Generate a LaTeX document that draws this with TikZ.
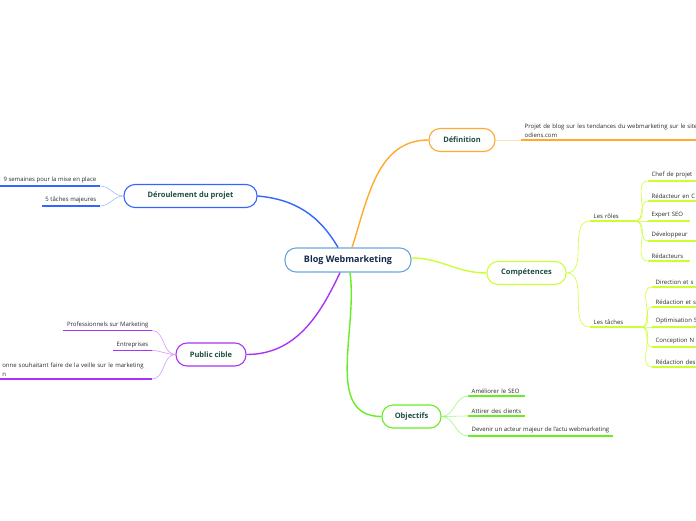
\documentclass[tikz,border=0pt]{standalone}
\usepackage{fontspec}
\setmainfont{Open Sans}
\usetikzlibrary{positioning}

\definecolor{rootblue}{HTML}{6AA6DC}
\definecolor{rootnavy}{HTML}{14294B}
\definecolor{titlegreen}{HTML}{1E4D40}
\definecolor{leafgray}{HTML}{2A2A2A}
\definecolor{defcol}{HTML}{FFA92E}
\definecolor{dercol}{HTML}{3366FF}
\definecolor{compcol}{HTML}{CCFF33}
\definecolor{objcol}{HTML}{66EE22}
\definecolor{pubcol}{HTML}{AA33F5}

\begin{document}
\begin{tikzpicture}[x=1pt, y=-1pt,
	topic/.style={draw, rounded corners=11pt, line width=1.1pt, fill=white, minimum height=23pt, inner xsep=8pt, font=\bfseries\fontsize{7.5}{9}\selectfont, text=titlegreen},
	leaf/.style={inner xsep=3.5pt, inner ysep=2.5pt, font=\fontsize{6}{9}\selectfont, text=leafgray, align=left},
	branch/.style={line width=1.4pt},
	twig/.style={line width=0.6pt},
	uline/.style={line width=1.8pt},
]
	\clip (0,0) rectangle (696,520);

	% Centre
	\node[topic, draw=rootblue, text=rootnavy, minimum width=126pt, minimum height=24pt, font=\bfseries\fontsize{9}{11}\selectfont] (root) at (348,260) {Blog Webmarketing};

	% Main topics
	\node[topic, draw=defcol, minimum width=66pt] (def) at (462,140) {Définition};
	\node[topic, draw=dercol, minimum width=133pt] (der) at (190.5,196) {Déroulement du projet};
	\node[topic, draw=compcol, minimum width=79pt] (comp) at (526.5,273) {Compétences};
	\node[topic, draw=objcol, minimum width=59pt] (obj) at (411.5,416.5) {Objectifs};
	\node[topic, draw=pubcol, minimum width=70pt] (pub) at (211,354.5) {Public cible};

	% Centre -> topics
	\draw[branch, defcol] ([xshift=4pt]root.north) to[out=72, in=180] (def.west);
	\draw[branch, dercol] ([xshift=-10pt]root.north) to[out=120, in=-5] (der.east);
	\draw[branch, compcol] ([yshift=2pt]root.east) to[out=0, in=180] (comp.west);
	\draw[branch, objcol] ([xshift=2pt]root.south) to[out=-82, in=180] (obj.west);
	\draw[branch, pubcol] ([xshift=-8pt]root.south) to[out=-115, in=0] (pub.east);

	% Definition
	\node[leaf, anchor=south west, text width=178pt] (d1) at (521,140) {Projet de blog sur les tendances du webmarketing sur le site\\odiens.com};
	\draw[twig, defcol!35] (def.east) -- (d1.south west);
	\draw[uline, defcol] (d1.south west) -- (d1.south east);

	% Deroulement du projet
	\node[leaf, anchor=south east] (p1) at (100,186) {9 semaines pour la mise en place};
	\node[leaf, below=20pt of p1.south east, anchor=south east] (p2) {5 tâches majeures};
	\foreach \n in {p1, p2} {
		\draw[twig, dercol!45] (der.west) to[out=180, in=0] (\n.south east);
		\draw[uline, dercol] (\n.south west) -- (\n.south east);
	}

	% Competences
	\node[leaf, anchor=south west, text width=38pt] (roles) at (590,221) {Les rôles};
	\node[leaf, anchor=south west, text width=44pt] (taches) at (590,327) {Les tâches};
	\foreach \n in {roles, taches} {
		\draw[twig, compcol] (comp.east) to[out=0, in=180] (\n.south west);
		\draw[uline, compcol] (\n.south west) -- (\n.south east);
	}

	\node[leaf, anchor=south west, text width=50pt] (r1) at (648,181) {Chef de projet};
	\node[leaf, below=20pt of r1.south west, anchor=south west, text width=50pt] (r2) {Rédacteur en C};
	\node[leaf, below=20pt of r2.south west, anchor=south west, text width=35pt] (r3) {Expert SEO};
	\node[leaf, below=20pt of r3.south west, anchor=south west, text width=41pt] (r4) {Développeur};
	\node[leaf, below=20pt of r4.south west, anchor=south west, text width=35pt] (r5) {Rédacteurs};
	\foreach \n in {r1, r2, r3, r4, r5} {
		\draw[twig, compcol] (roles.south east) to[out=0, in=180] (\n.south west);
		\draw[uline, compcol] (\n.south west) -- (\n.south east);
	}

	\node[leaf, anchor=south west, text width=50pt] (t1) at (652,287) {Direction et s};
	\node[leaf, below=20pt of t1.south west, anchor=south west, text width=50pt] (t2) {Rédaction et s};
	\node[leaf, below=20pt of t2.south west, anchor=south west, text width=50pt] (t3) {Optimisation S};
	\node[leaf, below=20pt of t3.south west, anchor=south west, text width=50pt] (t4) {Conception N};
	\node[leaf, below=20pt of t4.south west, anchor=south west, text width=50pt] (t5) {Rédaction des};
	\foreach \n in {t1, t2, t3, t4, t5} {
		\draw[twig, compcol] (taches.south east) to[out=0, in=180] (\n.south west);
		\draw[uline, compcol] (\n.south west) -- (\n.south east);
	}

	% Objectifs
	\node[leaf, anchor=south west, text width=50pt] (o1) at (468,396) {Améliorer le SEO};
	\node[leaf, below=20pt of o1.south west, anchor=south west, text width=50pt] (o2) {Attirer des clients};
	\node[leaf, below=20pt of o2.south west, anchor=south west] (o3) {Devenir un acteur majeur de l'actu webmarketing};
	\foreach \n in {o1, o2, o3} {
		\draw[twig, objcol!60] (obj.east) to[out=0, in=180] (\n.south west);
		\draw[uline, objcol] (\n.south west) -- (\n.south east);
	}

	% Public cible
	\node[leaf, anchor=south east] (c1) at (152,330.5) {Professionnels sur Marketing};
	\node[leaf, below=20pt of c1.south east, anchor=south east] (c2) {Entreprises};
	\node[leaf, anchor=south east, text width=146pt] (c3) at (152,379) {onne souhaitant faire de la veille sur le marketing\\n};
	\foreach \n in {c1, c2, c3} {
		\draw[twig, pubcol!50] (pub.west) to[out=180, in=0] (\n.south east);
		\draw[uline, pubcol] (\n.south west) -- (\n.south east);
	}
\end{tikzpicture}
\end{document}
